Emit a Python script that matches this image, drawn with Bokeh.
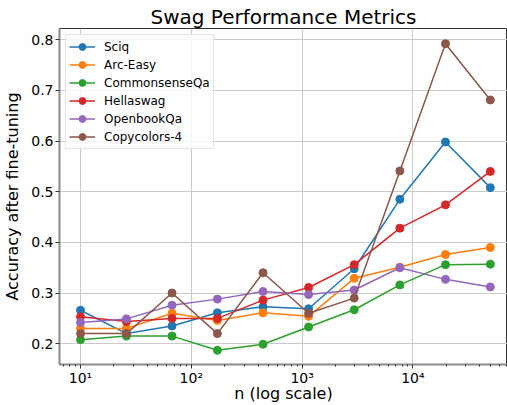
from bokeh.plotting import figure
from bokeh.models import Range1d, FixedTicker, CustomJSTickFormatter, Legend, LegendItem
from bokeh.embed import file_html
from bokeh.resources import INLINE

# Training-set sizes and per-task accuracy after fine-tuning
n_values = [10, 26, 67, 172, 444, 1145, 2955, 7627, 19686, 50000]

sciq = [0.266, 0.220, 0.235, 0.261, 0.273, 0.269, 0.348, 0.485, 0.598, 0.508]
arc_easy = [0.230, 0.230, 0.260, 0.246, 0.261, 0.254, 0.329, 0.351, 0.376, 0.390]
commonsense_qa = [0.208, 0.215, 0.215, 0.187, 0.199, 0.233, 0.267, 0.316, 0.356, 0.357]
hellaswag = [0.253, 0.244, 0.250, 0.250, 0.286, 0.311, 0.356, 0.428, 0.474, 0.540]
openbook_qa = [0.242, 0.249, 0.276, 0.288, 0.303, 0.297, 0.306, 0.350, 0.327, 0.312]
copycolors_4 = [0.220, 0.220, 0.300, 0.220, 0.340, 0.260, 0.290, 0.541, 0.792, 0.681]

series_names = ["Sciq", "Arc-Easy", "CommonsenseQa", "Hellaswag", "OpenbookQa", "Copycolors-4"]
series_values = [sciq, arc_easy, commonsense_qa, hellaswag, openbook_qa, copycolors_4]
colors = ["#1f77b4", "#ff7f0e", "#2ca02c", "#d62728", "#9467bd", "#8c564b"]

y_ticks = [0.2, 0.3, 0.4, 0.5, 0.6, 0.7, 0.8]
x_ticks = [10, 100, 1000, 10000]

FONT = "DejaVu Sans"

p = figure(
    width=507, height=405,
    x_axis_type="log",
    x_range=Range1d(6.46, 71450),
    y_range=Range1d(0.159, 0.822),
    output_backend="svg",
    toolbar_location=None,
    title="Swag Performance Metrics",
    min_border_left=59, min_border_right=0,
    min_border_top=28, min_border_bottom=41,
)

p.title.text_font = FONT
p.title.text_font_size = "20px"
p.title.text_font_style = "normal"
p.title.text_color = "black"
p.title.align = "center"
p.title.standoff = 0

p.background_fill_color = "white"
p.border_fill_color = "white"
p.outline_line_color = "#333333"
p.outline_line_width = 1

# axes
minor = [m * 10 ** e for e in range(0, 5) for m in range(2, 10)]
p.xaxis.ticker = FixedTicker(ticks=x_ticks, minor_ticks=minor)
p.xaxis.formatter = CustomJSTickFormatter(code="""
    const sup = {"0":"\u2070","1":"\u00b9","2":"\u00b2","3":"\u00b3","4":"\u2074",
                 "5":"\u2075","6":"\u2076","7":"\u2077","8":"\u2078","9":"\u2079"};
    const e = String(Math.round(Math.log10(tick)));
    return "10" + e.split("").map(c => sup[c]).join("");
""")
p.yaxis.ticker = FixedTicker(ticks=y_ticks)

for ax in (p.xaxis[0], p.yaxis[0]):
    ax.axis_line_color = "#8a8a8a"
    ax.axis_line_width = 2
    ax.major_tick_line_color = "#333333"
    ax.major_tick_out = 4
    ax.major_tick_in = 0
    ax.major_label_text_font = FONT
    ax.major_label_text_font_size = "14px"
    ax.major_label_text_color = "black"
    ax.axis_label_text_font = FONT
    ax.axis_label_text_font_size = "16px"
    ax.axis_label_text_font_style = "normal"
    ax.axis_label_text_color = "black"

p.xaxis.minor_tick_line_color = "#333333"
p.xaxis.minor_tick_out = 2
p.xaxis.minor_tick_in = 0
p.yaxis.minor_tick_line_color = None

p.xaxis.axis_label = "n (log scale)"
p.yaxis.axis_label = "Accuracy after fine-tuning"
p.xaxis.major_label_standoff = 1
p.xaxis.axis_label_standoff = -5
p.yaxis.major_label_standoff = 2
p.yaxis.axis_label_standoff = 6

p.xgrid.grid_line_color = "#cbcbcb"
p.ygrid.grid_line_color = "#cbcbcb"
p.xgrid.grid_line_width = 1
p.ygrid.grid_line_width = 1

items = []
for name, vals, col in zip(series_names, series_values, colors):
    ln = p.line(n_values, vals, line_color=col, line_width=1.5)
    sc = p.scatter(n_values, vals, size=8, fill_color=col, line_color=col)
    items.append(LegendItem(label=name, renderers=[ln, sc]))

legend = Legend(items=items, location="top_left")
legend.margin = 6
legend.padding = 3
legend.spacing = 1
legend.glyph_width = 26
legend.glyph_height = 17
legend.label_height = 17
legend.label_standoff = 9
legend.label_text_font = FONT
legend.label_text_font_size = "12px"
legend.label_text_color = "black"
legend.border_line_color = "#cccccc"
legend.border_line_width = 1
legend.background_fill_color = "white"
legend.background_fill_alpha = 0.8
p.add_layout(legend, "center")

open("out.html", "w").write(file_html(p, INLINE))
